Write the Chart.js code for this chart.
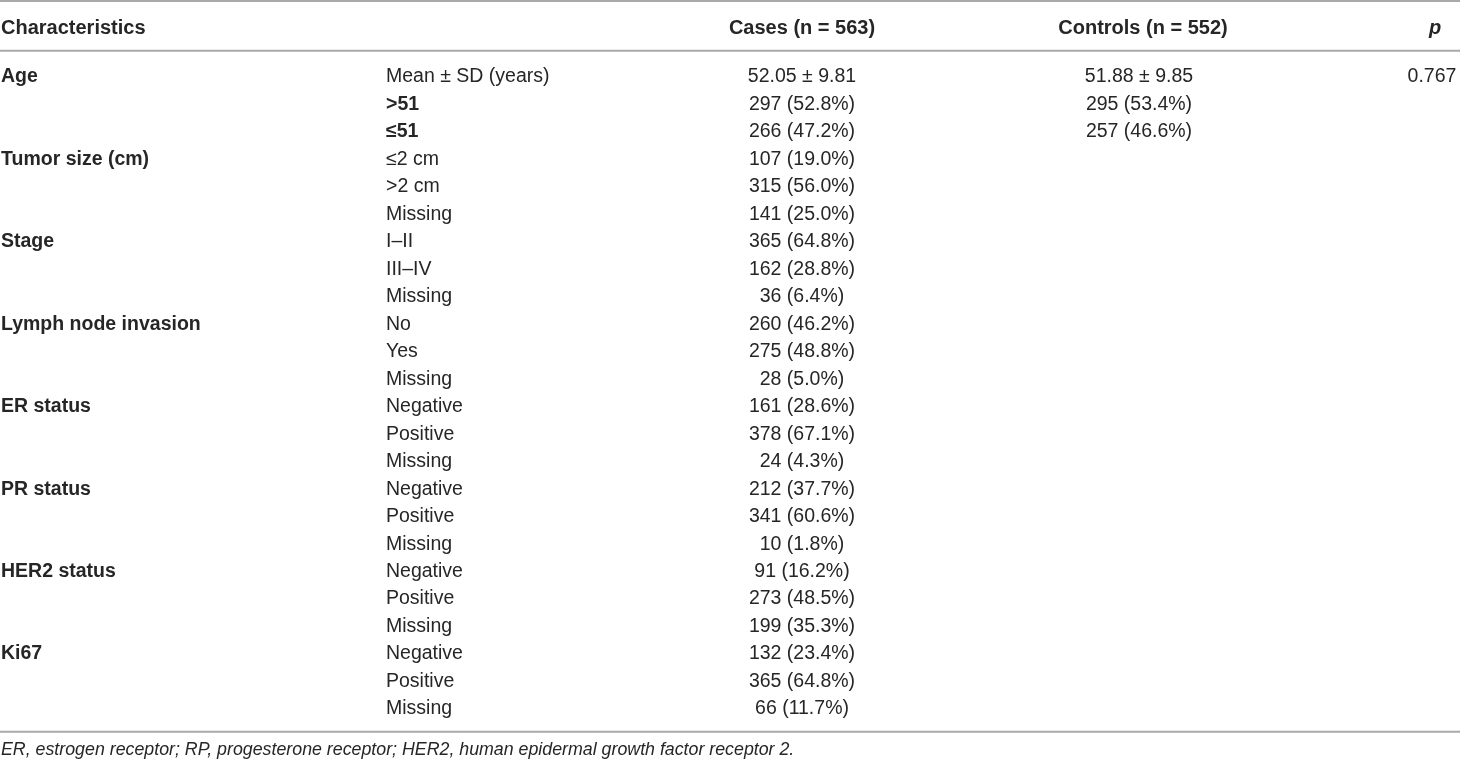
<!DOCTYPE html>
<html>
<head>
<meta charset="utf-8">
<script src="https://cdn.jsdelivr.net/npm/chart.js@4.4.1/dist/chart.umd.min.js"></script>
<style>
  html, body { margin: 0; padding: 0; background: #fff; }
  #wrap { width: 1460px; height: 763px; position: relative; }
</style>
</head>
<body>
<div id="wrap"><canvas id="tableChart"></canvas></div>
<script>
// Données du tableau
const headers = ['Characteristics', 'Cases (n = 563)', 'Controls (n = 552)', 'p'];
const groups = ['Age', 'Tumor size (cm)', 'Stage', 'Lymph node invasion', 'ER status', 'PR status', 'HER2 status', 'Ki67'];
const subLabels = [
    'Mean ± SD (years)', '>51', '≤51',
    '≤2 cm', '>2 cm', 'Missing',
    'I–II', 'III–IV', 'Missing',
    'No', 'Yes', 'Missing',
    'Negative', 'Positive', 'Missing',
    'Negative', 'Positive', 'Missing',
    'Negative', 'Positive', 'Missing',
    'Negative', 'Positive', 'Missing'
];
const boldSubRows = [1, 2];
const caseMeanSd = [52.05, 9.81];
const controlMeanSd = [51.88, 9.85];
const caseCounts = [null, 297, 266, 107, 315, 141, 365, 162, 36, 260, 275, 28, 161, 378, 24, 212, 341, 10, 91, 273, 199, 132, 365, 66];
const casePcts = [null, 52.8, 47.2, 19.0, 56.0, 25.0, 64.8, 28.8, 6.4, 46.2, 48.8, 5.0, 28.6, 67.1, 4.3, 37.7, 60.6, 1.8, 16.2, 48.5, 35.3, 23.4, 64.8, 11.7];
const controlCounts = [null, 295, 257];
const controlPcts = [null, 53.4, 46.6];
const pValues = ['0.767'];
const footnote = 'ER, estrogen receptor; RP, progesterone receptor; HER2, human epidermal growth factor receptor 2.';

// Lignes du tableau = catégories de l'axe y
const rowKeys = subLabels.map((_, i) => 'r' + i);

const fmtCount = (n, p) => `${n} (${p.toFixed(1)}%)`;
const fmtMean = (m) => `${m[0].toFixed(2)} ± ${m[1].toFixed(2)}`;

const caseTexts = caseCounts.map((c, i) => i === 0 ? fmtMean(caseMeanSd) : fmtCount(c, casePcts[i]));
const controlTexts = [fmtMean(controlMeanSd)].concat(controlCounts.slice(1).map((c, i) => fmtCount(c, controlPcts[i + 1])));

// Position des colonnes sur l'axe x (0..1460)
const COL = { group: 1, sub: 386, cases: 802, controls: 1139, p: 1432 };
const HEAD_X = [1, 802, 1143, 1435];

const FONT = '"Liberation Sans", Arial, sans-serif';
const INK = '#262626';
const BODY_PX = 19.5;

const textColumn = (texts, x, align, boldRows = []) => ({
    data: texts.map((t, i) => ({ x: x, y: rowKeys[i] })),
    texts: texts,
    align: align,
    boldRows: boldRows,
    pointRadius: 0,
    pointHoverRadius: 0
});

// Plugin care desenează textul celulelor și liniile
const tablePlugin = {
    id: 'tableText',
    afterDatasetsDraw(chart) {
        const ctx = chart.ctx;
        const area = chart.chartArea;
        ctx.save();

        // linii orizontale
        ctx.strokeStyle = '#a9a9a9';
        ctx.lineWidth = 2;
        [1, area.top - 12.5, area.bottom + 9].forEach(y => {
            ctx.beginPath();
            ctx.moveTo(0, y);
            ctx.lineTo(chart.width, y);
            ctx.stroke();
        });

        // antet
        ctx.fillStyle = INK;
        ctx.textBaseline = 'middle';
        headers.forEach((h, i) => {
            ctx.font = (i === 3 ? 'italic bold ' : 'bold ') + '20px ' + FONT;
            ctx.textAlign = i === 0 ? 'left' : 'center';
            ctx.fillText(h, HEAD_X[i], 28);
        });

        // celule
        chart.data.datasets.forEach((ds, di) => {
            const meta = chart.getDatasetMeta(di);
            ctx.textAlign = ds.align;
            meta.data.forEach((pt, i) => {
                const bold = ds.boldRows.includes(i);
                ctx.font = (bold ? 'bold ' : '') + BODY_PX + 'px ' + FONT;
                ctx.fillText(ds.texts[i], pt.x, pt.y);
            });
        });

        // notă
        ctx.font = 'italic 17.8px ' + FONT;
        ctx.textAlign = 'left';
        ctx.fillText(footnote, 1, 750);
        ctx.restore();
    }
};

document.addEventListener('DOMContentLoaded', () => {
    const groupTexts = [];
    const groupRows = [];
    groups.forEach((g, i) => { groupTexts.push(g); groupRows.push(i * 3); });

    const groupCol = {
        data: groupRows.map(r => ({ x: COL.group, y: rowKeys[r] })),
        texts: groupTexts,
        align: 'left',
        boldRows: groupTexts.map((_, i) => i),
        pointRadius: 0,
        pointHoverRadius: 0
    };

    new Chart(document.getElementById('tableChart'), {
        type: 'scatter',
        data: {
            labels: rowKeys,
            datasets: [
                groupCol,
                textColumn(subLabels, COL.sub, 'left', boldSubRows),
                textColumn(caseTexts, COL.cases, 'center'),
                textColumn(controlTexts, COL.controls, 'center'),
                textColumn(pValues, COL.p, 'center')
            ]
        },
        options: {
            responsive: true,
            maintainAspectRatio: false,
            animation: false,
            layout: { padding: { top: 63.26, bottom: 40.26, left: 0, right: 0 } },
            plugins: { legend: { display: false }, tooltip: { enabled: false } },
            scales: {
                x: { type: 'linear', min: 0, max: 1460, display: false },
                y: { type: 'category', labels: rowKeys, offset: true, display: false }
            }
        },
        plugins: [tablePlugin]
    });
});
</script>
</body>
</html>
